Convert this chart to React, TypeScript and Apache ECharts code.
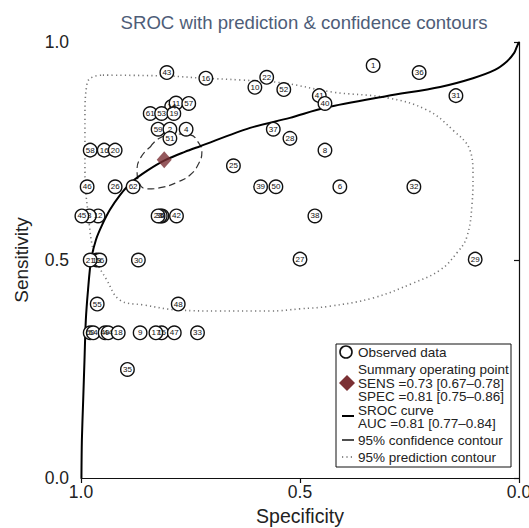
import React, { useEffect, useRef } from "react";
import * as echarts from "echarts";

// Observed studies (label, specificity, sensitivity)
const pointLabels = [
  "1", "36", "43", "16", "22", "10", "52", "41", "40", "31",
  "14", "11", "57", "61", "53", "19", "59", "2", "4", "51",
  "37", "28", "8", "58", "16", "20", "25", "46", "26", "62",
  "39", "50", "6", "32", "12", "3", "45", "5", "34", "23",
  "42", "38", "13", "56", "21", "27", "29", "30", "55", "48",
  "60", "54", "49", "44", "18", "9", "15", "17", "47", "33",
  "35",
];
const pointSpec = [
  0.333, 0.228, 0.804, 0.715, 0.576, 0.603, 0.537, 0.456, 0.443, 0.144,
  0.793, 0.783, 0.754, 0.842, 0.816, 0.788, 0.824, 0.797, 0.760, 0.797,
  0.561, 0.523, 0.443, 0.979, 0.947, 0.922, 0.652, 0.986, 0.922, 0.881,
  0.590, 0.555, 0.409, 0.240, 0.961, 0.981, 0.998, 0.815, 0.819, 0.824,
  0.782, 0.466, 0.964, 0.957, 0.979, 0.500, 0.100, 0.869, 0.963, 0.778,
  0.979, 0.972, 0.945, 0.938, 0.915, 0.865, 0.816, 0.829, 0.787, 0.734,
  0.894,
];
const pointSens = [
  0.946, 0.930, 0.930, 0.917, 0.919, 0.896, 0.891, 0.877, 0.859, 0.877,
  0.852, 0.860, 0.859, 0.836, 0.836, 0.836, 0.800, 0.800, 0.800, 0.779,
  0.800, 0.779, 0.752, 0.752, 0.752, 0.752, 0.716, 0.668, 0.668, 0.668,
  0.668, 0.668, 0.668, 0.668, 0.601, 0.601, 0.601, 0.601, 0.601, 0.601,
  0.601, 0.601, 0.500, 0.500, 0.500, 0.502, 0.502, 0.500, 0.399, 0.399,
  0.333, 0.333, 0.333, 0.333, 0.333, 0.333, 0.333, 0.333, 0.333, 0.333,
  0.249,
];

// Summary operating point
const summarySpec = 0.81;
const summarySens = 0.73;

// SROC curve
const srocSpec = [
  0.999, 0.998, 0.995, 0.992, 0.989, 0.984, 0.977, 0.966, 0.952, 0.934,
  0.911, 0.884, 0.847, 0.808, 0.763, 0.728, 0.614, 0.523, 0.443, 0.301,
  0.180, 0.105, 0.055, 0.027, 0.011, 0.005, 0.0,
];
const srocSens = [
  0.0, 0.087, 0.179, 0.271, 0.362, 0.431, 0.5, 0.546, 0.580, 0.615,
  0.649, 0.679, 0.706, 0.729, 0.748, 0.761, 0.803, 0.826, 0.849, 0.876,
  0.897, 0.917, 0.936, 0.956, 0.975, 0.989, 1.0,
];

// 95% confidence contour
const confSpec = [
  0.842, 0.820, 0.785, 0.751, 0.733, 0.724, 0.731, 0.751, 0.779, 0.813,
  0.849, 0.868, 0.872, 0.863, 0.842,
];
const confSens = [
  0.759, 0.780, 0.789, 0.787, 0.771, 0.748, 0.722, 0.695, 0.679, 0.667,
  0.663, 0.679, 0.706, 0.736, 0.759,
];

// 95% prediction contour
const predSpec = [
  0.950, 0.804, 0.721, 0.637, 0.539, 0.425, 0.301, 0.210, 0.151, 0.112,
  0.105, 0.107, 0.119, 0.142, 0.180, 0.242, 0.333, 0.432, 0.500, 0.568,
  0.683, 0.774, 0.858, 0.911, 0.941, 0.968, 0.984, 0.991, 0.991, 0.986,
  0.973, 0.950,
];
const predSens = [
  0.924, 0.922, 0.917, 0.913, 0.906, 0.885, 0.872, 0.844, 0.798, 0.752,
  0.693, 0.631, 0.553, 0.516, 0.477, 0.447, 0.413, 0.394, 0.388, 0.383,
  0.383, 0.385, 0.397, 0.408, 0.454, 0.507, 0.608, 0.706, 0.828, 0.906,
  0.920, 0.924,
];

const axisTicks = [0, 0.5, 1];

const FONT = "'Liberation Sans', Arial, Helvetica, sans-serif";

export default function App() {
  const ref = useRef<HTMLDivElement>(null);

  useEffect(() => {
    if (!ref.current) return;
    const chart = echarts.init(ref.current, null, { renderer: "svg" });

    const zip = (a: number[], b: number[]) => a.map((v, i) => [v, b[i]]);

    const lx = 336;
    const ly = 344;
    const textStyle = (t: string, x: number, y: number) => ({
      type: "text",
      x,
      y,
      style: {
        text: t,
        fill: "#222",
        font: `13.5px ${FONT}`,
        textVerticalAlign: "middle",
        verticalAlign: "middle",
      },
      z: 101,
    });

    const option: any = {
      animation: false,
      backgroundColor: "#fff",
      title: {
        text: "SROC with prediction & confidence contours",
        left: 299,
        top: 8,
        textAlign: "center",
        textStyle: {
          color: "#4e5d78",
          fontSize: 18.6,
          fontWeight: "normal",
          fontFamily: FONT,
        },
      },
      grid: { left: 81, right: 10, top: 42, bottom: 50, outerBoundsMode: "none", containLabel: false },
      xAxis: {
        type: "value",
        min: 0,
        max: 1,
        interval: 0.5,
        inverse: true,
        name: "Specificity",
        nameLocation: "middle",
        nameGap: 28,
        nameTextStyle: { color: "#222", fontSize: 19.5, fontFamily: FONT },
        axisLine: { show: true, lineStyle: { color: "#111", width: 1.2 } },
        axisTick: { show: true, length: 5, lineStyle: { color: "#111", width: 1.2 } },
        axisLabel: {
          color: "#222",
          fontSize: 17.5,
          fontFamily: FONT,
          margin: 5,
          formatter: (v: number) => (axisTicks.includes(v) ? v.toFixed(1) : ""),
        },
        splitLine: { show: false },
      },
      yAxis: {
        type: "value",
        min: 0,
        max: 1,
        interval: 0.5,
        name: "Sensitivity",
        nameLocation: "middle",
        nameGap: 50,
        nameTextStyle: { color: "#222", fontSize: 19, fontFamily: FONT },
        axisLine: { show: true, lineStyle: { color: "#111", width: 1.2 } },
        axisTick: { show: true, length: 5, lineStyle: { color: "#111", width: 1.2 } },
        axisLabel: {
          color: "#222",
          fontSize: 17.5,
          fontFamily: FONT,
          margin: 12,
          formatter: (v: number) => (axisTicks.includes(v) ? v.toFixed(1) : ""),
        },
        splitLine: { show: false },
      },
      series: [
        {
          type: "line",
          name: "95% prediction contour",
          data: zip(predSpec, predSens),
          smooth: 0.4,
          showSymbol: false,
          symbol: "none",
          lineStyle: { color: "#777", width: 1.6, type: [1.2, 3.2] },
          z: 2,
        },
        {
          type: "line",
          name: "95% confidence contour",
          data: zip(confSpec, confSens),
          smooth: 0.5,
          showSymbol: false,
          symbol: "none",
          lineStyle: { color: "#333", width: 1.2, type: [7, 4] },
          z: 3,
        },
        {
          type: "line",
          name: "SROC curve",
          data: zip(srocSpec, srocSens),
          smooth: 0.3,
          showSymbol: false,
          symbol: "none",
          lineStyle: { color: "#000", width: 2 },
          z: 4,
        },
        {
          type: "scatter",
          name: "Observed data",
          data: pointLabels.map((l, i) => ({ name: l, value: [pointSpec[i], pointSens[i]] })),
          symbol: "circle",
          symbolSize: 13.5,
          itemStyle: { color: "#fff", borderColor: "#111", borderWidth: 1.4, opacity: 1 },
          label: {
            show: true,
            position: "inside",
            formatter: (p: any) => p.name,
            color: "#111",
            fontSize: 8,
            fontFamily: FONT,
          },
          z: 5,
        },
        {
          type: "scatter",
          name: "Summary operating point",
          data: [[summarySpec, summarySens]],
          symbol: "diamond",
          symbolSize: [15, 17],
          itemStyle: { color: "#7b3034" },
          z: 6,
        },
      ],
      graphic: [
        {
          type: "rect",
          shape: { x: lx, y: ly, width: 175, height: 123 },
          style: { fill: "#fff", stroke: "#111", lineWidth: 1 },
          z: 100,
        },
        {
          type: "circle",
          shape: { cx: 346, cy: 352, r: 6 },
          style: { fill: "#fff", stroke: "#111", lineWidth: 1.6 },
          z: 101,
        },
        textStyle("Observed data", 358, 352),
        textStyle("Summary operating point", 358, 369),
        textStyle("SENS =0.73 [0.67\u20130.78]", 358, 383),
        textStyle("SPEC =0.81 [0.75\u20130.86]", 358, 396),
        {
          type: "polygon",
          shape: { points: [[347, 375], [355, 383], [347, 391], [339, 383]] },
          style: { fill: "#7b3034" },
          z: 101,
        },
        textStyle("SROC curve", 358, 410),
        textStyle("AUC =0.81 [0.77\u20130.84]", 358, 423),
        {
          type: "line",
          shape: { x1: 342, y1: 416, x2: 354, y2: 416 },
          style: { stroke: "#000", lineWidth: 2 },
          z: 101,
        },
        textStyle("95% confidence contour", 358, 440),
        {
          type: "line",
          shape: { x1: 342, y1: 440, x2: 354, y2: 440 },
          style: { stroke: "#222", lineWidth: 1.6 },
          z: 101,
        },
        textStyle("95% prediction contour", 358, 457),
        {
          type: "line",
          shape: { x1: 342, y1: 457, x2: 355, y2: 457 },
          style: { stroke: "#666", lineWidth: 1.4, lineDash: [1.2, 3.2] },
          z: 101,
        },
      ],
    };

    chart.setOption(option);
    return () => chart.dispose();
  }, []);

  return (
    <div
      ref={ref}
      style={{ position: "fixed", left: 0, top: 0, width: 529, height: 528, background: "#fff" }}
    />
  );
}
